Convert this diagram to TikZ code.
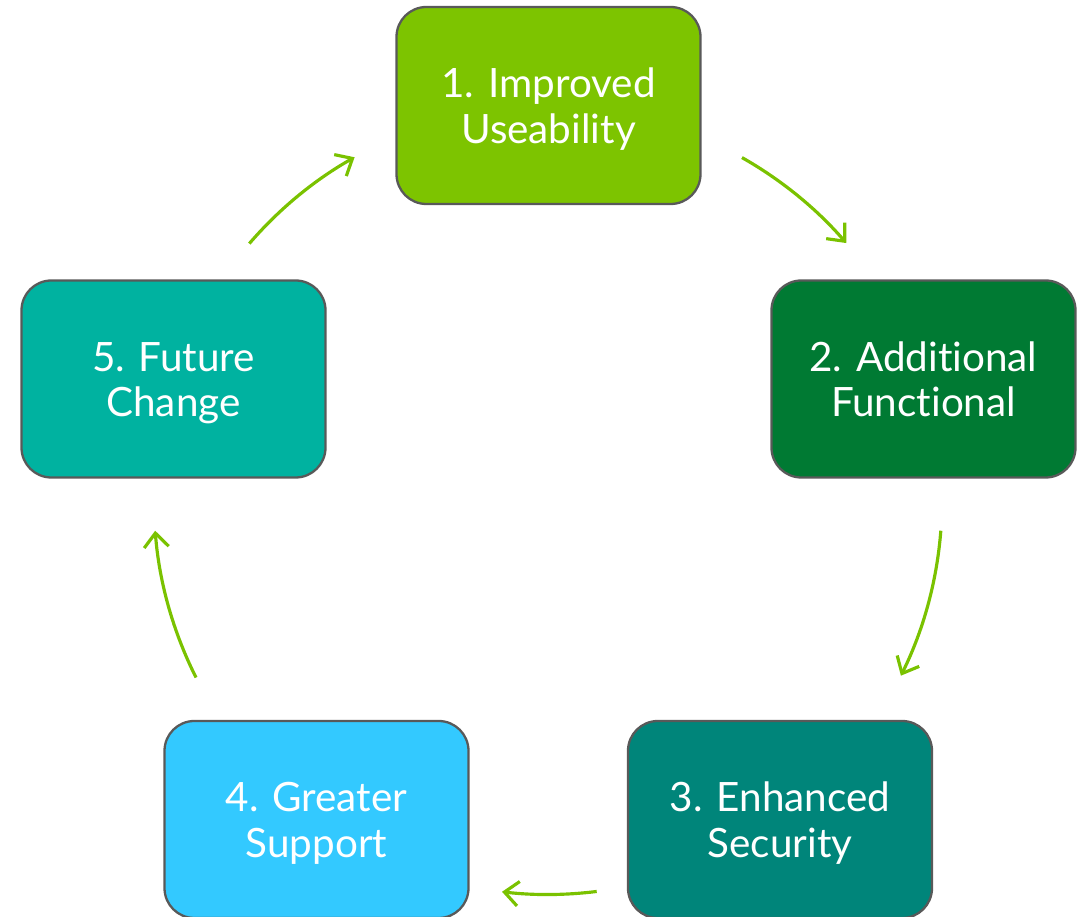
\documentclass[tikz,border=0pt]{standalone}
\usepackage{fontspec}
\setmainfont[Ligatures={NoCommon}]{Lato}
\usetikzlibrary{arrows.meta,calc}
\definecolor{c1}{HTML}{7DC400}
\definecolor{c2}{HTML}{007A33}
\definecolor{c3}{HTML}{00857A}
\definecolor{c4}{HTML}{33C9FF}
\definecolor{c5}{HTML}{00B2A0}
\definecolor{bord}{HTML}{595959}
\definecolor{arr}{HTML}{7AC200}
\newcommand{\twol}[2]{\raisebox{-3.4pt}[\height][\depth]{\begin{tabular}{@{}c@{}}#1\\#2\end{tabular}}}
\begin{document}
\begin{tikzpicture}[x=0.02cm,y=0.02cm,
  box/.style={draw=bord,line width=1.3pt,rounded corners=17pt,minimum width=304*0.02cm,minimum height=197*0.02cm,
    text=white,align=center,font=\fontsize{23}{26}\selectfont,inner sep=0pt},
  cyc/.style={draw=arr,line width=1.8pt,-{Straight Barb[length=8pt,width=14pt,line width=1.8pt]}}]
\useasboundingbox (0,0) rectangle (1083,917);
\clip (0,0) rectangle (1083,917);
\coordinate (ctr) at (548,416.5);
\node[box,fill=c1] (b1) at (548.5,917-105.5) {\twol{1. Improved}{Useability}};
\node[box,fill=c2] (b2) at (923.5,917-379) {\twol{2. Additional}{Functional}};
\node[box,fill=c3] (b3) at (780,917-819.5) {\twol{3. Enhanced}{Security}};
\node[box,fill=c4] (b4) at (316.5,917-819.5) {\twol{4. Greater}{Support}};
\node[box,fill=c5] (b5) at (173.5,917-379) {\twol{5. Future}{Change}};
\coordinate (a1) at ($(ctr)+(60.5:394)$);
\coordinate (a2) at ($(ctr)+(-4.4:394)$);
\coordinate (a3) at ($(ctr)+(-82.9:394)$);
\coordinate (a4) at ($(ctr)+(206.7:394)$);
\coordinate (a5) at ($(ctr)+(139.3:394)$);
\draw[cyc] (a1) arc[start angle=60.5,end angle=40.8,radius=394];
\draw[cyc] (a2) arc[start angle=-4.4,end angle=-26.4,radius=394];
\draw[cyc] (a3) arc[start angle=-82.9,end angle=-96.7,radius=394];
\draw[cyc] (a4) arc[start angle=206.7,end angle=184.4,radius=394];
\draw[cyc] (a5) arc[start angle=139.3,end angle=119.4,radius=394];
\end{tikzpicture}
\end{document}
